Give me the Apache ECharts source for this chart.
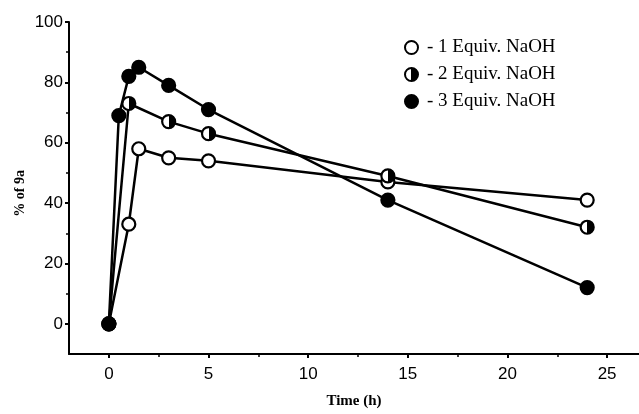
<!DOCTYPE html>
<html>
<head>
<meta charset="utf-8">
<script src="https://cdn.jsdelivr.net/npm/echarts@6/dist/echarts.min.js"></script>
<style>
html,body{margin:0;padding:0;background:#fff;}
#c{width:639px;height:414px;}
</style>
</head>
<body>
<div id="c"></div>
<script>
// Data
var seriesNames = ['- 1 Equiv. NaOH', '- 2 Equiv. NaOH', '- 3 Equiv. NaOH'];
var equiv1 = [[0, 0], [1, 33], [1.5, 58], [3, 55], [5, 54], [14, 47], [24, 41]];
var equiv2 = [[0, 0], [1, 73], [3, 67], [5, 63], [14, 49], [24, 32]];
var equiv3 = [[0, 0], [0.5, 69], [1, 82], [1.5, 85], [3, 79], [5, 71], [14, 41], [24, 12]];
var xTicks = [0, 5, 10, 15, 20, 25];
var xMinorTicks = [2.5, 7.5, 12.5, 17.5, 22.5];
var yTicks = [0, 20, 40, 60, 80, 100];
var yMinorTicks = [10, 30, 50, 70, 90];

var chart = echarts.init(document.getElementById('c'), null, {renderer: 'canvas'});
var halfFill = new echarts.graphic.LinearGradient(0, 0, 1, 0, [
  {offset: 0, color: '#fff'}, {offset: 0.5, color: '#fff'},
  {offset: 0.5, color: '#000'}, {offset: 1, color: '#000'}
]);
var fills = ['#fff', halfFill, '#000'];
var datasets = [equiv1, equiv2, equiv3];

var xMin = -2, xMax = 26.6, yMin = -10, yMax = 100;
var tickFont = {color: '#000', fontFamily: 'Liberation Sans, Arial, sans-serif', fontSize: 17};

var series = datasets.map(function (d, i) {
  return {
    name: seriesNames[i],
    type: 'line',
    data: d,
    xAxisIndex: 0, yAxisIndex: 0,
    symbol: 'circle',
    symbolSize: 13,
    lineStyle: {color: '#000', width: 2.5},
    itemStyle: {color: fills[i], borderColor: '#000', borderWidth: 2.2},
    emphasis: {disabled: true},
    z: 3 + i
  };
});

chart.setOption({
  animation: false,
  backgroundColor: '#fff',
  grid: {left: 69, right: 0, top: 22, bottom: 56},
  legend: {
    orient: 'vertical',
    left: 399, top: 33,
    itemWidth: 13, itemHeight: 13,
    itemGap: 8,
    icon: 'circle',
    textStyle: {color: '#000', fontFamily: 'Liberation Serif, Times New Roman, serif', fontSize: 19, padding: [0, 0, 0, 4]},
    data: seriesNames
  },
  xAxis: [{
    type: 'value', min: xMin, max: xMax,
    axisLine: {show: true, onZero: false, lineStyle: {color: '#000', width: 2}},
    axisTick: {show: true, length: 4, inside: false, customValues: xTicks, lineStyle: {color: '#000', width: 2}},
    axisLabel: Object.assign({customValues: xTicks, margin: 12, showMinLabel: true, showMaxLabel: true}, tickFont),
    splitLine: {show: false},
    name: 'Time (h)', nameLocation: 'middle', nameGap: 40,
    nameTextStyle: {color: '#000', fontFamily: 'Liberation Serif, Times New Roman, serif', fontSize: 15, fontWeight: 'bold'}
  }, {
    type: 'value', min: xMin, max: xMax, position: 'bottom',
    axisLine: {show: false, onZero: false},
    axisTick: {show: true, inside: false, length: 3, customValues: xMinorTicks, lineStyle: {color: '#000', width: 1.5}},
    axisLabel: {show: false, customValues: xMinorTicks},
    splitLine: {show: false}
  }],
  yAxis: [{
    type: 'value', min: yMin, max: yMax,
    axisLine: {show: true, onZero: false, lineStyle: {color: '#000', width: 2}},
    axisTick: {show: true, length: 4, customValues: yTicks, lineStyle: {color: '#000', width: 2}},
    axisLabel: Object.assign({customValues: yTicks, margin: 6}, tickFont),
    splitLine: {show: false}
  }, {
    type: 'value', min: yMin, max: yMax, position: 'left',
    axisLine: {show: false, onZero: false},
    axisTick: {show: true, inside: false, length: 3, customValues: yMinorTicks, lineStyle: {color: '#000', width: 1.5}},
    axisLabel: {show: false, customValues: yMinorTicks},
    splitLine: {show: false}
  }],
  graphic: [{
    type: 'text',
    left: 13, top: 170,
    rotation: Math.PI / 2,
    style: {text: '% of 9a', fill: '#000', font: 'bold 14px "Liberation Serif", serif'}
  }],
  series: series
});
</script>
</body>
</html>
